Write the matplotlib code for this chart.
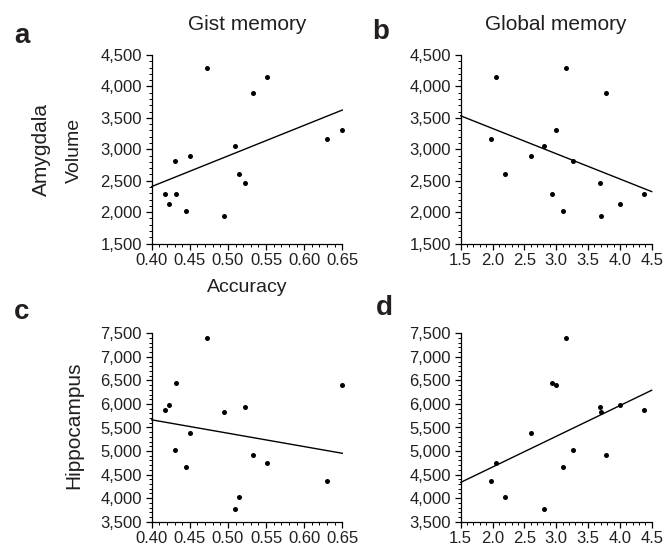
import numpy as np
import matplotlib
matplotlib.use("Agg")
import matplotlib.pyplot as plt
from matplotlib.ticker import MultipleLocator, FuncFormatter

plt.rcParams['font.family'] = ['Liberation Sans', 'DejaVu Sans']

# Data (one entry per subject)
gist_accuracy = [0.418, 0.423, 0.430, 0.432, 0.445, 0.450, 0.472, 0.495,
                 0.509, 0.515, 0.522, 0.533, 0.551, 0.630, 0.649]
global_memory = [4.377, 4.005, 3.267, 2.927, 3.110, 2.602, 3.157, 3.702,
                 2.812, 2.194, 3.686, 3.780, 2.052, 1.969, 2.995]
amygdala = [2290, 2121, 2812, 2290, 2020, 2886, 4299, 1941,
            3045, 2599, 2456, 3890, 4155, 3162, 3310]
hippocampus = [5865, 5978, 5029, 6452, 4668, 5383, 7408, 5829,
               3769, 4017, 5942, 4909, 4739, 4371, 6396]

col_titles = ["Gist memory", "Global memory"]
panel_letters = ["a", "b", "c", "d"]
row_labels = ["Amygdala", "Hippocampus"]

W, H = 663, 546
fig = plt.figure(figsize=(W / 100, H / 100), dpi=100)
TXT = '#231f20'

def px_axes(l, t, r, b):
    return fig.add_axes([l / W, 1 - b / H, (r - l) / W, (b - t) / H])

boxes = {
    (0, 0): (151.7, 55, 342.3, 243.5),
    (0, 1): (460.7, 55, 651.7, 243.5),
    (1, 0): (151.7, 333.3, 342.3, 521.7),
    (1, 1): (460.7, 333.3, 651.7, 521.7),
}
xs = [gist_accuracy, global_memory]
ys = [amygdala, hippocampus]
xlims = [(0.40, 0.65), (1.5, 4.5)]
xmaj = [0.05, 0.5]
xmin = [0.01, 0.1]
xfmt = ["{:.2f}", "{:.1f}"]
ylims = [(1500, 4500), (3500, 7500)]

for r in range(2):
    for c in range(2):
        ax = px_axes(*boxes[(r, c)])
        x = np.array(xs[c]); y = np.array(ys[r])
        ax.plot(x, y, 'o', color='black', markersize=3.6, markeredgewidth=0, clip_on=False)
        k, b0 = np.polyfit(x, y, 1)
        xl = np.array(xlims[c])
        ax.plot(xl, k * xl + b0, color='black', lw=1.0, clip_on=False)
        ax.set_xlim(*xlims[c]); ax.set_ylim(*ylims[r])
        ax.xaxis.set_major_locator(MultipleLocator(xmaj[c]))
        ax.xaxis.set_minor_locator(MultipleLocator(xmin[c]))
        ax.yaxis.set_major_locator(MultipleLocator(500))
        ax.yaxis.set_minor_locator(MultipleLocator(100))
        f = xfmt[c]
        ax.xaxis.set_major_formatter(FuncFormatter(lambda v, p, f=f: f.format(v)))
        ax.yaxis.set_major_formatter(FuncFormatter(lambda v, p: "{:,.0f}".format(v)))
        for s in ['top', 'right']:
            ax.spines[s].set_visible(False)
        for s in ['left', 'bottom']:
            ax.spines[s].set_linewidth(0.9)
        ax.tick_params(which='major', direction='out', length=4, width=0.9,
                       labelsize=12, labelcolor=TXT, pad=3)
        ax.tick_params(which='minor', direction='out', length=2, width=0.7)
        ax.patch.set_alpha(0)

def ftext(xp, yp, s, **kw):
    fig.text(xp / W, 1 - yp / H, s, color=TXT, **kw)

ftext(247, 25, col_titles[0], ha='center', va='center', fontsize=15)
ftext(556, 25, col_titles[1], ha='center', va='center', fontsize=15)
ftext(247, 288, "Accuracy", ha='center', va='center', fontsize=14)
ftext(22, 36, panel_letters[0], ha='center', va='center', fontsize=20, fontweight='bold')
ftext(381, 32, panel_letters[1], ha='center', va='center', fontsize=20, fontweight='bold')
ftext(22, 312, panel_letters[2], ha='center', va='center', fontsize=20, fontweight='bold')
ftext(384, 308, panel_letters[3], ha='center', va='center', fontsize=20, fontweight='bold')
ftext(41, 150, row_labels[0], ha='center', va='center', rotation=90, fontsize=15)
ftext(74, 150, "Volume", ha='center', va='center', rotation=90, fontsize=14)
ftext(74, 425, row_labels[1], ha='center', va='center', rotation=90, fontsize=15)

fig.savefig("out.png", dpi=100)
